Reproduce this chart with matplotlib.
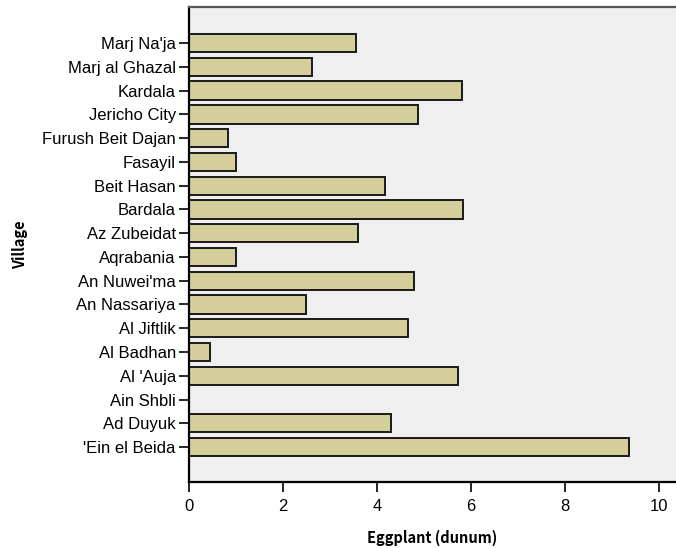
import matplotlib
matplotlib.use("Agg")
import matplotlib.pyplot as plt
import numpy as np

plt.rcParams['font.family'] = ['Liberation Sans', 'DejaVu Sans']

villages = [
    "'Ein el Beida", "Ad Duyuk", "Ain Shbli", "Al 'Auja", "Al Badhan",
    "Al Jiftlik", "An Nassariya", "An Nuwei'ma", "Aqrabania", "Az Zubeidat",
    "Bardala", "Beit Hasan", "Fasayil", "Furush Beit Dajan", "Jericho City",
    "Kardala", "Marj al Ghazal", "Marj Na'ja",
]
eggplant_dunum = [
    9.36, 4.30, 0.0, 5.73, 0.45,
    4.66, 2.49, 4.79, 1.00, 3.60,
    5.82, 4.17, 1.00, 0.84, 4.88,
    5.80, 2.62, 3.55,
]
x_ticks = [0, 2, 4, 6, 8, 10]

fig = plt.figure(figsize=(6.76, 5.48), dpi=100)
ax = fig.add_axes([189 / 676, 66 / 548, 487 / 676, 475 / 548])
ax.set_facecolor('#efefef')

pos = np.arange(len(villages))
ax.barh(pos, eggplant_dunum, height=0.77, color='#d3ce9a',
        edgecolor='#1a1a1a', linewidth=1.4, zorder=2)

ax.set_yticks(pos)
ax.set_yticklabels(villages)
ax.set_ylim(-1.47, len(villages) - 1 + 1.52)
ax.set_xlim(0, 10.36)
ax.set_xticks(x_ticks)

ax.spines['right'].set_visible(False)
ax.spines['left'].set_linewidth(1.6)
ax.spines['bottom'].set_linewidth(1.6)
ax.spines['top'].set_linewidth(1.6)
ax.spines['top'].set_color('#555555')

ax.tick_params(axis='both', direction='out', length=7.5, width=1.2,
               labelsize=12, colors='black')
ax.tick_params(axis='y', pad=2)
ax.tick_params(axis='x', pad=5)

label_font = ['Noto Sans CJK JP', 'DejaVu Sans']
ax.set_xlabel('Eggplant (dunum)', fontsize=10.5, fontweight='bold',
              family=label_font, labelpad=11)
ax.set_ylabel('Village', fontsize=10.5, fontweight='bold',
              family=label_font, labelpad=10)

fig.savefig('out.png', dpi=100)
